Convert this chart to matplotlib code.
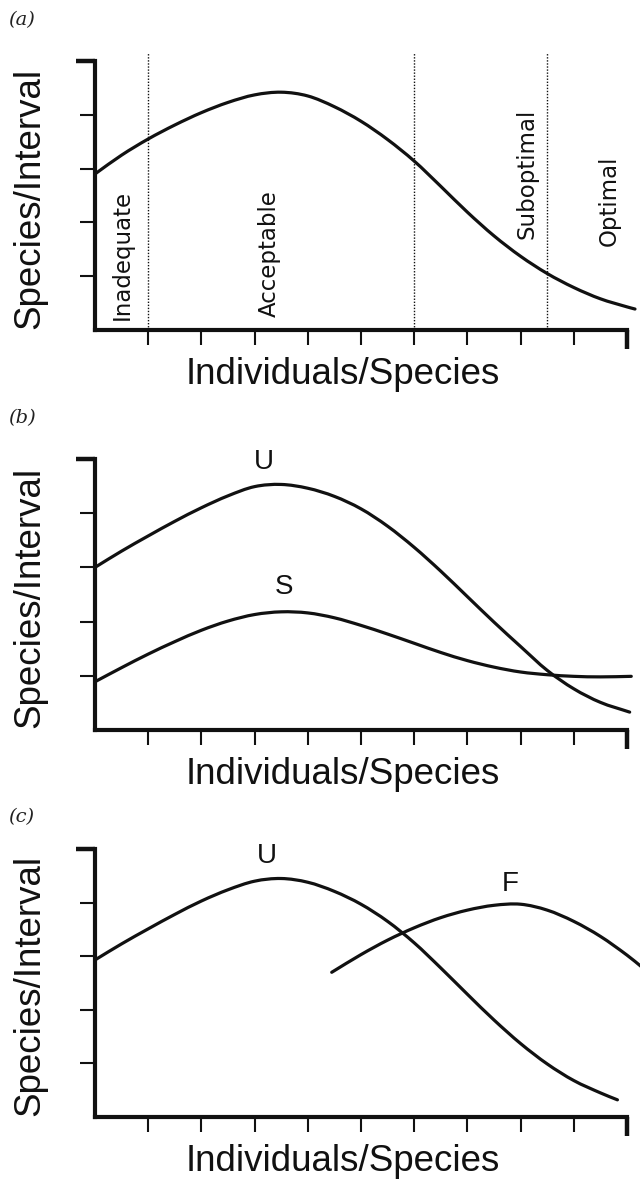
import matplotlib
matplotlib.use("Agg")
import matplotlib.pyplot as plt
from matplotlib.ticker import FixedLocator
from matplotlib.path import Path
from matplotlib.patches import PathPatch

# --- curve readings (x in Individuals/Species units, y in Species/Interval units) ---
a_x = [0, 0.5, 1, 1.5, 2, 2.5, 3, 3.5, 4, 4.5, 5, 5.5, 6, 6.5, 7, 7.5, 8, 8.5, 9, 9.5, 10, 10.15]
a_y = [2.9, 3.25, 3.55, 3.81, 4.04, 4.23, 4.37, 4.42, 4.35, 4.15, 3.88, 3.54, 3.14, 2.67, 2.19, 1.75,
       1.37, 1.05, 0.79, 0.58, 0.43, 0.39]

b_u_x = [0, 0.5, 1, 1.5, 2, 2.5, 3, 3.5, 4, 4.5, 5, 5.5, 6, 6.5, 7, 7.5, 8, 8.5, 9, 9.5, 10.05]
b_u_y = [3.0, 3.3, 3.58, 3.85, 4.1, 4.32, 4.49, 4.53, 4.46, 4.31, 4.08, 3.76, 3.37, 2.93, 2.46,
         1.99, 1.54, 1.1, 0.76, 0.51, 0.33]

b_s_x = [0, 0.5, 1, 1.5, 2, 2.5, 3, 3.5, 4, 4.5, 5, 5.5, 6, 6.5, 7, 7.5, 8, 8.5, 9, 9.5, 10.08]
b_s_y = [0.89, 1.15, 1.4, 1.63, 1.84, 2.01, 2.13, 2.18, 2.16, 2.07, 1.93, 1.77, 1.6, 1.43, 1.28,
         1.16, 1.07, 1.02, 0.99, 0.98, 0.99]

c_u_x = [0, 0.5, 1, 1.5, 2, 2.5, 3, 3.5, 4, 4.5, 5, 5.5, 6, 6.5, 7, 7.5, 8, 8.5, 9, 9.5, 9.82]
c_u_y = [2.93, 3.23, 3.51, 3.78, 4.03, 4.24, 4.4, 4.45, 4.38, 4.21, 3.97, 3.65, 3.25, 2.78, 2.29,
         1.81, 1.37, 0.99, 0.68, 0.45, 0.32]

c_f_x = [4.45, 5, 5.5, 6, 6.5, 7, 7.5, 8, 8.5, 9, 9.5, 10, 10.3]
c_f_y = [2.7, 3.03, 3.3, 3.53, 3.72, 3.86, 3.95, 3.97, 3.86, 3.65, 3.37, 3.02, 2.78]

# zone boundaries and names for panel (a)
zone_edges = [1, 6, 8.5]
zone_names = ["Inadequate", "Acceptable", "Suboptimal", "Optimal"]
zone_label_x = [0.51, 3.27, 8.12, 9.66]
zone_label_y = [0.19, 0.24, 1.7, 1.57]

XMAX, YMAX = 10, 5
INK = "#111111"
SANS = "Liberation Sans"


def style_axes(ax):
    ax.set_xlim(0, XMAX)
    ax.set_ylim(0, YMAX)
    for side in ("top", "right"):
        ax.spines[side].set_visible(False)
    for side in ("left", "bottom"):
        ax.spines[side].set_linewidth(3)
        ax.spines[side].set_color(INK)
        ax.spines[side].set_capstyle("projecting")
    ax.xaxis.set_major_locator(FixedLocator(range(1, XMAX)))
    ax.yaxis.set_major_locator(FixedLocator(range(1, YMAX)))
    # heavier end caps at the far ends of both axes
    ax.xaxis.set_minor_locator(FixedLocator([XMAX]))
    ax.yaxis.set_minor_locator(FixedLocator([YMAX]))
    ax.tick_params(which="major", direction="out", length=11, width=1.5, color=INK,
                   labelbottom=False, labelleft=False)
    ax.tick_params(which="minor", direction="out", length=14, width=3.2, color=INK,
                   labelbottom=False, labelleft=False)
    ax.set_xlabel("Individuals/Species", fontsize=26.5, family=SANS, color=INK)
    ax.set_ylabel("Species/Interval", fontsize=26.5, family=SANS, color=INK)
    ax.xaxis.set_label_coords(0.466, -0.1)
    ax.yaxis.set_label_coords(-0.09, 0.49)


def smooth_path(x, y):
    # cubic Hermite through the points, expressed as Bezier segments
    n = len(x)
    m = []
    for i in range(n):
        j0, j1 = max(i - 1, 0), min(i + 1, n - 1)
        m.append((y[j1] - y[j0]) / (x[j1] - x[j0]))
    verts = [(x[0], y[0])]
    codes = [Path.MOVETO]
    for i in range(n - 1):
        h = (x[i + 1] - x[i]) / 3
        verts += [(x[i] + h, y[i] + m[i] * h),
                  (x[i + 1] - h, y[i + 1] - m[i + 1] * h),
                  (x[i + 1], y[i + 1])]
        codes += [Path.CURVE4] * 3
    return Path(verts, codes)


def curve(ax, x, y):
    ax.add_patch(PathPatch(smooth_path(x, y), fill=False, edgecolor=INK, lw=2.3,
                           capstyle="round", joinstyle="round", clip_on=False))


def panel_tag(fig, y, tag):
    fig.text(0.012, y, f"({tag})", fontsize=14, family="DejaVu Serif", style="italic",
             va="center", ha="left", color="#222222")


fig = plt.figure(figsize=(6.4, 11.82), dpi=100)
left, width = 0.1484, 0.8313
ax_a = fig.add_axes([left, 0.7208, width, 0.2276])
ax_b = fig.add_axes([left, 0.3824, width, 0.2293])
ax_c = fig.add_axes([left, 0.0550, width, 0.2267])

# (a) single curve split into quality zones
style_axes(ax_a)
curve(ax_a, a_x, a_y)
ax_a.vlines(zone_edges, 0, 5.15, colors=INK, linestyles=(0, (1, 1.2)), lw=1.0, clip_on=False)
for name, tx, ty in zip(zone_names, zone_label_x, zone_label_y):
    ax_a.text(tx, ty, name, rotation=90, ha="center", va="bottom", fontsize=16.5,
              family="DejaVu Sans", color=INK)
panel_tag(fig, 0.983, "a")

# (b) unsampled vs sampled
style_axes(ax_b)
curve(ax_b, b_u_x, b_u_y)
curve(ax_b, b_s_x, b_s_y)
ax_b.text(3.17, 4.7, "U", ha="center", va="bottom", fontsize=20, family=SANS, color=INK)
ax_b.text(3.55, 2.4, "S", ha="center", va="bottom", fontsize=20, family=SANS, color=INK)
panel_tag(fig, 0.646, "b")

# (c) unsampled vs fossil
style_axes(ax_c)
curve(ax_c, c_u_x, c_u_y)
curve(ax_c, c_f_x, c_f_y)
ax_c.text(3.23, 4.62, "U", ha="center", va="bottom", fontsize=20, family=SANS, color=INK)
ax_c.text(7.8, 4.1, "F", ha="center", va="bottom", fontsize=20, family=SANS, color=INK)
panel_tag(fig, 0.309, "c")

fig.savefig("out.png", dpi=100, facecolor="white")
